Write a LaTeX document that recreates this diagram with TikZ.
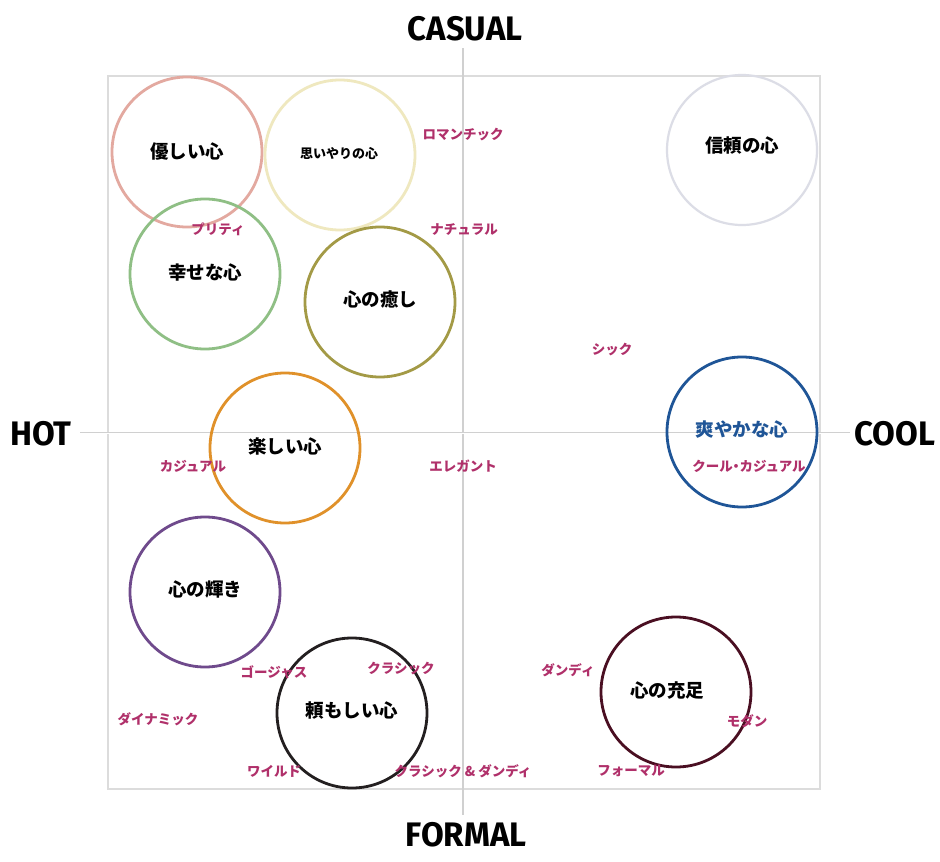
\documentclass[tikz,border=0pt]{standalone}
\usepackage{fontspec}
\newfontfamily\jp{Noto Sans CJK JP}
\newfontfamily\axf{Fira Sans}
\definecolor{framegray}{HTML}{DCDCDC}
\definecolor{axisgray}{HTML}{D0D0D0}
\definecolor{lbl}{HTML}{B0306A}
\definecolor{cpink}{HTML}{E3A9A0}
\definecolor{cyellow}{HTML}{EFE8BF}
\definecolor{cgraybl}{HTML}{DCDDE6}
\definecolor{cgreen}{HTML}{8FBF85}
\definecolor{colive}{HTML}{A39A46}
\definecolor{corange}{HTML}{E0912A}
\definecolor{cblue}{HTML}{1F5597}
\definecolor{cpurple}{HTML}{6F4A8C}
\definecolor{cblack}{HTML}{231F20}
\definecolor{cmaroon}{HTML}{4A0F22}
\tikzset{
  heart/.style={circle, draw=#1, line width=2.8pt, minimum size=150pt, inner sep=0pt},
  htext/.style={font=\jp\bfseries\fontsize{18.5}{20}\selectfont, inner sep=0pt},
  stext/.style={font=\jp\bfseries\fontsize{13}{15}\selectfont, inner sep=0pt},
  kw/.style={font=\jp\bfseries\fontsize{13.5}{15}\selectfont, text=lbl, inner sep=0pt},
  axlab/.style={font=\axf\bfseries\fontsize{34}{36}\selectfont, inner sep=0pt, xscale=0.97}
}
\begin{document}
\begin{tikzpicture}[x=1pt,y=-1pt]
\useasboundingbox (0,0) rectangle (940,862);
\fill[white] (0,0) rectangle (940,862);
% frame
\draw[framegray, line width=2pt] (108,76) rectangle (820,789);
% axes
\coordinate (vt) at (463,48);
\coordinate (vb) at (463,815);
\coordinate (hl) at (80,433);
\coordinate (hr) at (850,433);
\draw[axisgray, line width=1.6pt] (vt) -- (vb);
\draw[axisgray, line width=1.6pt] (hl) -- (hr);
\draw[white, line width=0.4pt] (hl) -- (hr);
% axis labels
\node[axlab] (casual) at (465,29) {CASUAL};
\node[axlab] (formal) at (466,835) {FORMAL};
\node[axlab] (hot) at (41,434) {HOT};
\node[axlab] (cool) at (895,434) {COOL};
% circles
\node[heart=cpink] (c1) at (187,152) {};
\node[heart=cyellow] (c2) at (340,155) {};
\node[heart=cgraybl, line width=2.2pt] (c3) at (742,150) {};
\node[heart=cgreen] (c4) at (205,274) {};
\node[heart=colive] (c5) at (380,302) {};
\node[heart=corange] (c6) at (285,448) {};
\node[heart=cblue] (c7) at (742,432) {};
\node[heart=cpurple] (c8) at (205,592) {};
\node[heart=cblack] (c9) at (352,713) {};
\node[heart=cmaroon] (c10) at (676,692) {};
% circle texts
\node[htext] (t1) at (187,152) {優しい心};
\node[stext] (t2) at (339,154) {思いやりの心};
\node[htext] (t3) at (742,146) {信頼の心};
\node[htext] (t4) at (205,272) {幸せな心};
\node[htext] (t5) at (380,300) {心の癒し};
\node[htext] (t6) at (285,446) {楽しい心};
\node[htext, text=cblue] (t7) at (742,430) {爽やかな心};
\node[htext] (t8) at (205,589) {心の輝き};
\node[htext] (t9) at (352,711) {頼もしい心};
\node[htext] (t10) at (667,690) {心の充足};
% keywords
\node[kw] (k1) at (463,135) {ロマンチック};
\node[kw] (k2) at (218,229) {プリティ};
\node[kw] (k3) at (464,229) {ナチュラル};
\node[kw] (k4) at (612,350) {シック};
\node[kw] (k5) at (193,466) {カジュアル};
\node[kw] (k6) at (463,466) {エレガント};
\node[kw] (k7) at (749,466) {クール{\kern-0.25em}・{\kern-0.25em}カジュアル};
\node[kw] (k8) at (274,672) {ゴージャス};
\node[kw] (k9) at (401,669) {クラシック};
\node[kw] (k10) at (568,670) {ダンディ};
\node[kw] (k11) at (158,719) {ダイナミック};
\node[kw] (k12) at (747,721) {モダン};
\node[kw] (k13) at (274,771) {ワイルド};
\node[kw] (k14) at (463,771) {クラシック \& ダンディ};
\node[kw] (k15) at (631,771) {フォーマル};
\end{tikzpicture}
\end{document}
